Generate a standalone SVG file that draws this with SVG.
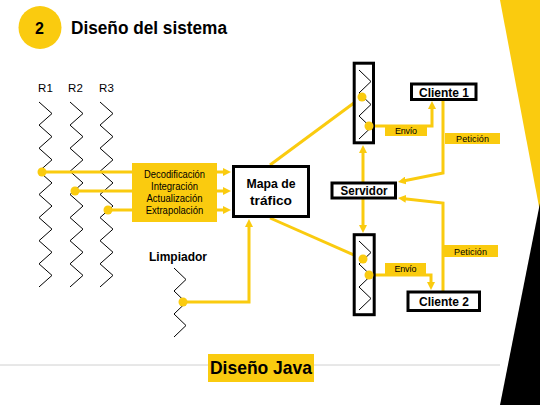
<svg xmlns="http://www.w3.org/2000/svg" width="540" height="405" viewBox="0 0 540 405">
<style>
text{font-family:"Liberation Sans",Arial,sans-serif;fill:#000}
.y{fill:#FACB0F}
.box{fill:#fff;stroke:#000;stroke-width:3}
.ln{fill:none;stroke:#FACB0F;stroke-width:3}
.arr{fill:none;stroke:#FACB0F;stroke-width:3;marker-end:url(#ah)}
.zz{fill:none;stroke:#000;stroke-width:1}
.lbl{font-size:9px}
.nd{font-size:13px;font-weight:bold}
.b{font-weight:bold}
</style>
<defs>
<marker id="ah" viewBox="0 0 8 8" refX="4" refY="4" markerWidth="8" markerHeight="8" markerUnits="userSpaceOnUse" orient="auto">
<path d="M0 0 L8 4 L0 8 z" fill="#FACB0F"/>
</marker>
<path id="zz16" d="M0 0 l13 11.56 -13 11.56 13 11.56 -13 11.56 13 11.56 -13 11.56 13 11.56 -13 11.56 13 11.56 -13 11.56 13 11.56 -13 11.56 13 11.56 -13 11.56 13 11.56 -13 11.56"/>
<path id="zz6" d="M0 0 l12 11.5 -12 11.5 12 11.5 -12 11.5 12 11.5 -12 11.5"/>
</defs>
<rect width="540" height="405" fill="#fff"/>
<!-- decoration -->
<polygon points="500,0 540,0 540,212" class="y"/>
<polygon points="540,203 540,405 500,405" fill="#000"/>
<line x1="0" y1="365" x2="500" y2="365" stroke="#D0D0D0" stroke-width="1"/>
<!-- header -->
<g id="header">
<circle cx="40" cy="27.5" r="21.5" class="y"/>
<text x="39.5" y="34" font-size="16" font-weight="bold" text-anchor="middle">2</text>
<text x="71" y="34" font-size="18" class="b" textLength="156" lengthAdjust="spacingAndGlyphs">Diseño del sistema</text>
</g>
<!-- R columns -->
<g id="R1">
<text x="38" y="92.3" font-size="11.5" textLength="15" lengthAdjust="spacing">R1</text>
<use href="#zz16" class="zz" transform="translate(39,102)"/>
</g>
<g id="R2">
<text x="68" y="92.3" font-size="11.5" textLength="15" lengthAdjust="spacing">R2</text>
<use href="#zz16" class="zz" transform="translate(70,102)"/>
</g>
<g id="R3">
<text x="99" y="92.3" font-size="11.5" textLength="15" lengthAdjust="spacing">R3</text>
<use href="#zz16" class="zz" transform="translate(100,102)"/>
</g>
<!-- connectors -->
<g id="connectors">
<line class="ln" x1="42" y1="172" x2="133" y2="172"/>
<line class="ln" x1="75" y1="191" x2="133" y2="191"/>
<line class="ln" x1="108" y1="210" x2="133" y2="210"/>
<line class="arr" x1="217" y1="172" x2="227" y2="172"/>
<line class="arr" x1="217" y1="191" x2="227" y2="191"/>
<line class="arr" x1="217" y1="210" x2="227" y2="210"/>
<path class="arr" d="M183 302 H249 V223"/>
<line class="ln" x1="270" y1="165" x2="362" y2="97"/>
<line class="ln" x1="270" y1="218" x2="363" y2="259"/>
<path class="arr" d="M363 182 V149"/>
<path class="arr" d="M363 199 V229"/>
<path class="arr" d="M369 126 H432 V105"/>
<path class="arr" d="M369 275 H431 V286"/>
<path class="arr" d="M443 101 V173 L401.9 181.2"/>
<path class="arr" d="M443 291 V203 L402 198.4"/>
<circle cx="42" cy="172" r="4.5" class="y"/>
<circle cx="75" cy="191" r="4.5" class="y"/>
<circle cx="108" cy="210" r="4.5" class="y"/>
</g>
<!-- process box -->
<g id="proceso">
<rect x="132" y="163" width="85" height="59" class="y"/>
<text x="174.5" y="177.5" font-size="10" text-anchor="middle" textLength="61" lengthAdjust="spacingAndGlyphs">Decodificación</text>
<text x="174.5" y="189.5" font-size="10" text-anchor="middle" textLength="47" lengthAdjust="spacingAndGlyphs">Integración</text>
<text x="174.5" y="202" font-size="10" text-anchor="middle" textLength="56" lengthAdjust="spacingAndGlyphs">Actualización</text>
<text x="174.5" y="214" font-size="10" text-anchor="middle" textLength="57.5" lengthAdjust="spacingAndGlyphs">Extrapolación</text>
</g>
<g id="mapa">
<rect x="233.5" y="166.5" width="75" height="50" class="box"/>
<text x="271" y="187.5" font-size="13.5" class="b" text-anchor="middle" textLength="49" lengthAdjust="spacingAndGlyphs">Mapa de</text>
<text x="271" y="204.5" font-size="13.5" class="b" text-anchor="middle" textLength="42" lengthAdjust="spacingAndGlyphs">tráfico</text>
</g>
<g id="limpiador">
<text x="149" y="260.7" font-size="13" class="b" textLength="58" lengthAdjust="spacingAndGlyphs">Limpiador</text>
<use href="#zz6" class="zz" transform="translate(174,268)"/>
<circle cx="183" cy="302" r="4.5" class="y"/>
</g>
<g id="buffer1">
<rect x="354.2" y="63.2" width="19.3" height="79.6" class="box"/>
<use href="#zz6" class="zz" transform="translate(359,70)"/>
<circle cx="362" cy="97" r="4.5" class="y"/>
<circle cx="369" cy="126" r="4.5" class="y"/>
</g>
<g id="buffer2">
<rect x="354.2" y="234.7" width="20" height="80" class="box"/>
<use href="#zz6" class="zz" transform="translate(359,241)"/>
<circle cx="363" cy="259" r="4.5" class="y"/>
<circle cx="369" cy="275" r="4.5" class="y"/>
</g>
<g id="servidor">
<rect x="332" y="183" width="63.5" height="15" class="box"/>
<text x="364" y="195" class="nd" text-anchor="middle" textLength="47" lengthAdjust="spacingAndGlyphs">Servidor</text>
</g>
<g id="cliente1">
<rect x="411.5" y="84" width="64.5" height="15.5" class="box"/>
<text x="444" y="96.5" class="nd" text-anchor="middle" textLength="50" lengthAdjust="spacingAndGlyphs">Cliente 1</text>
</g>
<g id="cliente2">
<rect x="408" y="292" width="71.5" height="18.5" class="box"/>
<text x="444" y="306" class="nd" text-anchor="middle" textLength="50" lengthAdjust="spacingAndGlyphs">Cliente 2</text>
</g>
<g id="labels">
<rect x="385" y="125" width="42" height="11" class="y"/>
<text x="406" y="134" class="lbl" text-anchor="middle" textLength="22" lengthAdjust="spacing">Envío</text>
<rect x="445" y="133" width="55" height="11" class="y"/>
<text x="472.5" y="142" class="lbl" text-anchor="middle" textLength="33" lengthAdjust="spacing">Petición</text>
<rect x="385" y="263" width="41" height="11" class="y"/>
<text x="405.5" y="272" class="lbl" text-anchor="middle" textLength="22" lengthAdjust="spacing">Envío</text>
<rect x="443" y="245" width="55" height="12" class="y"/>
<text x="470.5" y="254.5" class="lbl" text-anchor="middle" textLength="33" lengthAdjust="spacing">Petición</text>
</g>
<g id="titulo">
<rect x="208" y="354" width="106" height="28" class="y"/>
<text x="261" y="374" font-size="19" class="b" text-anchor="middle" textLength="102" lengthAdjust="spacingAndGlyphs">Diseño Java</text>
</g>
</svg>
